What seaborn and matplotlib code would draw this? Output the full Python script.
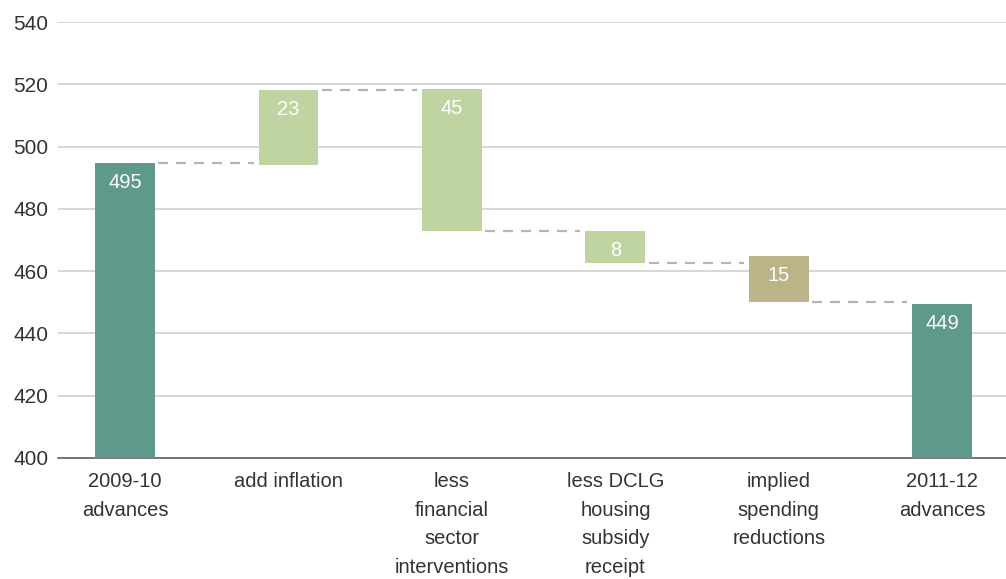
import matplotlib
matplotlib.use("Agg")
import matplotlib.pyplot as plt
import numpy as np
import seaborn as sns

categories = ["2009-10\nadvances", "add inflation", "less\nfinancial\nsector\ninterventions",
              "less DCLG\nhousing\nsubsidy\nreceipt", "implied\nspending\nreductions", "2011-12\nadvances"]
step_start = [400, 494.2, 518.6, 472.9, 465.0, 400]
step_end = [494.7, 518.3, 472.9, 462.6, 450.2, 449.5]
bar_labels = ["495", "23", "45", "8", "15", "449"]
bar_colors = ["#5f998c", "#bfd4a0", "#bfd4a0", "#bfd4a0", "#bcb489", "#5f998c"]

sns.set_theme(style="white")
plt.rcParams["font.family"] = ["Liberation Sans", "DejaVu Sans"]

lows = np.minimum(step_start, step_end)
highs = np.maximum(step_start, step_end)
BAR_W = 0.367

fig = plt.figure(figsize=(10.06, 5.79), dpi=100)
ax = fig.add_axes([0.0577, 0.209, 0.9423, 0.753])

sns.barplot(x=categories, y=highs - lows, order=categories, bottom=lows, width=BAR_W,
            color=bar_colors[0], saturation=1, errorbar=None, ax=ax, zorder=3)
for patch, c in zip(ax.patches, bar_colors):
    patch.set_facecolor(c)
    patch.set_edgecolor("none")

# connectors between bars
for i in range(len(categories) - 1):
    ax.plot([i + BAR_W / 2 + 0.02, i + 1 - BAR_W / 2 - 0.03], [step_end[i], step_end[i]],
            color="#b4b4b4", lw=1.6, dashes=(4.5, 3.6), zorder=2)

# value labels inside the bars
for i, lab in enumerate(bar_labels):
    ax.annotate(lab, (i, highs[i]), xytext=(0, -14), textcoords="offset points",
                ha="center", va="center", color="white", fontsize=14.5, zorder=4)

ax.set_ylim(400, 540)
ax.set_yticks(np.arange(400, 541, 20))
ax.set_xlim(-0.41, 5.39)
ax.yaxis.grid(True, color="#cccccc", lw=1.1)
ax.set_axisbelow(True)
for s in ["top", "right", "left"]:
    ax.spines[s].set_visible(False)
ax.spines["bottom"].set_color("#555555")
ax.spines["bottom"].set_linewidth(1.1)
ax.tick_params(axis="y", length=0, pad=7, labelsize=15, labelcolor="#333333")
ax.tick_params(axis="x", length=0, pad=10, labelsize=14.5, labelcolor="#333333")
for t in ax.get_xticklabels():
    t.set_linespacing(1.65)
    t.set_verticalalignment("top")
ax.set_xlabel("")
ax.set_ylabel("")

fig.savefig("out.png", dpi=100)
